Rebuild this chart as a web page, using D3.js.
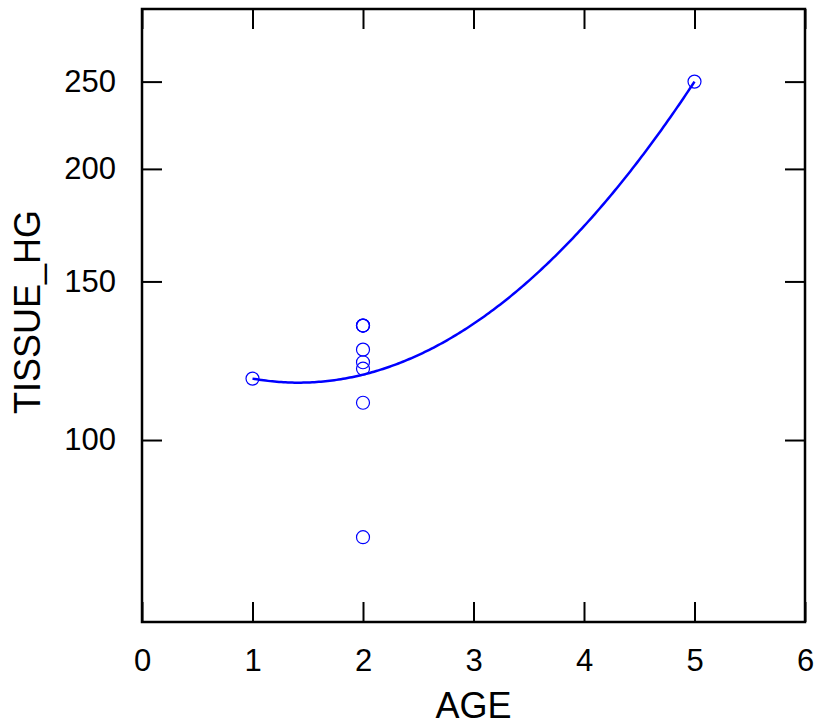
<!DOCTYPE html>
<html>
<head>
<meta charset="utf-8">
<script src="https://cdn.jsdelivr.net/npm/d3@7"></script>
<style>
  html, body { margin: 0; padding: 0; background: #fff; }
  svg { display: block; font-family: "Liberation Sans", Arial, sans-serif; }
</style>
</head>
<body>
<svg id="chart" width="817" height="725"></svg>
<script>
// Observations: AGE vs TISSUE_HG
const ages = [1, 2, 2, 2, 2, 2, 2, 2, 2, 5];
const tissueHg = [117, 134, 134, 134, 126, 122, 120, 110, 78, 250];

const xTicks = [0, 1, 2, 3, 4, 5, 6];
const yTicks = [100, 150, 200, 250];

const margin = { left: 142, top: 9, right: 12, bottom: 103 };
const W = 817, H = 725;

const svg = d3.select("#chart");

const x = d3.scaleLinear().domain([0, 6]).range([margin.left, W - margin.right]);
const y = d3.scaleLog().domain([62.8, 301]).range([H - margin.bottom, margin.top]);

const blue = "#0000ff";
const tickLen = 20;
const tickFont = 31;
const titleFont = 36;

// Quadratic least-squares fit of ln(TISSUE_HG) on AGE
function quadFit(xs, ys) {
  const n = xs.length;
  let s = [0, 0, 0, 0, 0], t = [0, 0, 0];
  for (let i = 0; i < n; i++) {
    let p = 1;
    for (let k = 0; k < 5; k++) { s[k] += p; if (k < 3) t[k] += p * ys[i]; p *= xs[i]; }
  }
  const A = [[s[0], s[1], s[2], t[0]], [s[1], s[2], s[3], t[1]], [s[2], s[3], s[4], t[2]]];
  for (let c = 0; c < 3; c++) {
    let piv = c;
    for (let r = c + 1; r < 3; r++) if (Math.abs(A[r][c]) > Math.abs(A[piv][c])) piv = r;
    [A[c], A[piv]] = [A[piv], A[c]];
    for (let r = 0; r < 3; r++) {
      if (r === c) continue;
      const f = A[r][c] / A[c][c];
      for (let k = c; k < 4; k++) A[r][k] -= f * A[c][k];
    }
  }
  return [A[0][3] / A[0][0], A[1][3] / A[1][1], A[2][3] / A[2][2]];
}
const coef = quadFit(ages, tissueHg.map(Math.log));
const [x0, x1] = d3.extent(ages);
const curve = d3.range(0, 201).map(i => {
  const a = x0 + (x1 - x0) * i / 200;
  return [a, Math.exp(coef[0] + coef[1] * a + coef[2] * a * a)];
});

const px0 = x.range()[0], px1 = x.range()[1];
const py0 = y.range()[0], py1 = y.range()[1];

// Axes with inward ticks on all four sides
const gBottom = svg.append("g").attr("transform", `translate(0,${py0})`)
  .call(d3.axisBottom(x).tickValues(xTicks).tickSize(-tickLen).tickPadding(tickLen + 7).tickFormat(d3.format("d")));
const gTop = svg.append("g").attr("transform", `translate(0,${py1})`)
  .call(d3.axisTop(x).tickValues(xTicks).tickSize(-tickLen).tickFormat(""));
const gLeft = svg.append("g").attr("transform", `translate(${px0},0)`)
  .call(d3.axisLeft(y).tickValues(yTicks).tickSize(-tickLen).tickPadding(tickLen + 6).tickFormat(d3.format("d")));
const gRight = svg.append("g").attr("transform", `translate(${px1},0)`)
  .call(d3.axisRight(y).tickValues(yTicks).tickSize(-tickLen).tickFormat(""));

[gBottom, gTop, gLeft, gRight].forEach(g => {
  g.select(".domain").remove();
  g.selectAll(".tick line").attr("stroke", "#000").attr("stroke-width", 2);
  g.selectAll(".tick text").attr("fill", "#000").attr("font-size", tickFont)
    .attr("font-family", "'Liberation Sans', Arial, sans-serif");
});

// Frame
svg.append("rect")
  .attr("x", px0).attr("y", py1)
  .attr("width", px1 - px0).attr("height", py0 - py1)
  .attr("fill", "none").attr("stroke", "#000").attr("stroke-width", 2.5);

// Fitted curve
svg.append("path")
  .datum(curve)
  .attr("fill", "none")
  .attr("stroke", blue)
  .attr("stroke-width", 2.5)
  .attr("d", d3.line().x(d => x(d[0])).y(d => y(d[1])));

// Points
svg.append("g").selectAll("circle")
  .data(ages.map((a, i) => [a, tissueHg[i]]))
  .join("circle")
  .attr("cx", d => x(d[0]))
  .attr("cy", d => y(d[1]))
  .attr("r", 6.5)
  .attr("fill", "none")
  .attr("stroke", blue)
  .attr("stroke-width", 1.2);

// Axis titles
svg.append("text")
  .attr("x", (px0 + px1) / 2).attr("y", 718)
  .attr("text-anchor", "middle").attr("font-size", titleFont).attr("fill", "#000")
  .text("AGE");
svg.append("text")
  .attr("transform", `translate(40,312) rotate(-90)`)
  .attr("text-anchor", "middle").attr("font-size", titleFont).attr("fill", "#000")
  .text("TISSUE_HG");
</script>
</body>
</html>
